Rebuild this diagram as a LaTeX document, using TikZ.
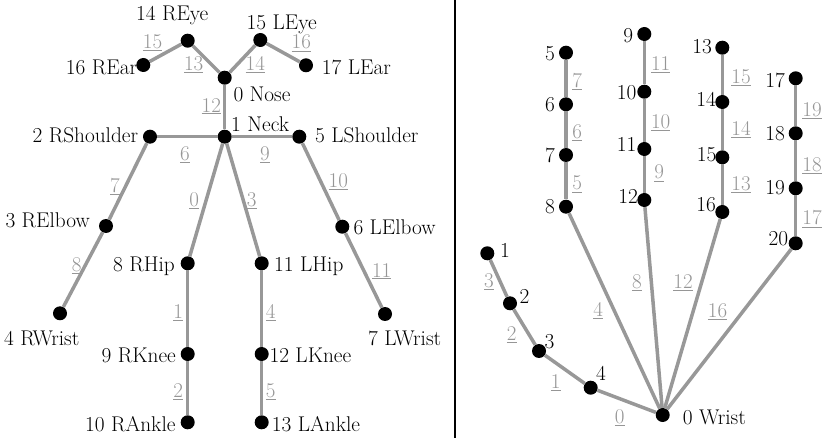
\documentclass[tikz,border=0pt]{standalone}
\definecolor{bonegray}{RGB}{152,152,152}
\definecolor{idxgray}{RGB}{150,150,150}
\tikzset{
  joint/.style={circle,fill=black,inner sep=0pt,minimum size=14pt},
  bone/.style={draw=bonegray,line width=3.5pt},
  jname/.style={inner sep=0pt,font=\fontsize{21.3}{25}\selectfont},
  bidx/.style={inner sep=0pt,anchor=base,text=idxgray,font=\fontsize{21}{25}\selectfont}
}
\begin{document}
\begin{tikzpicture}[x=1pt,y=-1pt]
            \useasboundingbox (0,0) rectangle (830,438);

            % Body joints
            \node[joint] (nose) at (224.7,77.7) {};
            \node[joint] (neck) at (224.7,136.7) {};
            \node[joint] (rsho) at (150,136.7) {};
            \node[joint] (relb) at (106,226) {};
            \node[joint] (rwri) at (60,313.3) {};
            \node[joint] (lsho) at (299.3,136.7) {};
            \node[joint] (lelb) at (342.3,226.7) {};
            \node[joint] (lwri) at (385,314) {};
            \node[joint] (rhip) at (187.7,263.3) {};
            \node[joint] (rkne) at (187.7,354) {};
            \node[joint] (rank) at (187.7,422.3) {};
            \node[joint] (lhip) at (261.7,263.3) {};
            \node[joint] (lkne) at (261.7,354) {};
            \node[joint] (lank) at (261.7,422.3) {};
            \node[joint] (reye) at (187.7,40.7) {};
            \node[joint] (leye) at (260.3,40) {};
            \node[joint] (rear) at (143.3,65) {};
            \node[joint] (lear) at (306,65.3) {};

            \draw[bone] (rear) -- (reye);
            \draw[bone] (reye) -- (nose);
            \draw[bone] (nose) -- (leye);
            \draw[bone] (leye) -- (lear);
            \draw[bone] (nose) -- (neck);
            \draw[bone] (neck) -- (rsho);
            \draw[bone] (neck) -- (lsho);
            \draw[bone] (rsho) -- (relb);
            \draw[bone] (relb) -- (rwri);
            \draw[bone] (lsho) -- (lelb);
            \draw[bone] (lelb) -- (lwri);
            \draw[bone] (neck) -- (rhip);
            \draw[bone] (neck) -- (lhip);
            \draw[bone] (rhip) -- (rkne);
            \draw[bone] (rkne) -- (rank);
            \draw[bone] (lhip) -- (lkne);
            \draw[bone] (lkne) -- (lank);

            \node[jname,anchor=base] (treye) at (172.2,21) {14 REye};
            \node[jname,anchor=base] (tleye) at (281.7,29.5) {15 LEye};
            \node[jname,anchor=base east] (trear) at (137.3,74.6) {16 REar};
            \node[jname,anchor=base west] (tlear) at (321.7,74.6) {17 LEar};
            \node[jname,anchor=base west] (tnose) at (233.3,101.3) {0 Nose};
            \node[jname,anchor=base west] (tneck) at (231,132) {1 Neck};
            \node[jname,anchor=base east] (trsho) at (138.3,142.7) {2 RShoulder};
            \node[jname,anchor=base west] (tlsho) at (315,142.7) {5 LShoulder};
            \node[jname,anchor=base east] (trelb) at (90,228) {3 RElbow};
            \node[jname,anchor=base west] (tlelb) at (353.3,235) {6 LElbow};
            \node[jname,anchor=base west] (trwri) at (4,345) {4 RWrist};
            \node[jname,anchor=base west] (tlwri) at (368,345) {7 LWrist};
            \node[jname,anchor=base east] (trhip) at (175,272) {8 RHip};
            \node[jname,anchor=base west] (tlhip) at (274,272) {11 LHip};
            \node[jname,anchor=base east] (trkne) at (176,362) {9 RKnee};
            \node[jname,anchor=base west] (tlkne) at (269.3,362) {12 LKnee};
            \node[jname,anchor=base east] (trank) at (175.7,431) {10 RAnkle};
            \node[jname,anchor=base west] (tlank) at (271.7,431) {13 LAnkle};

            \node[bidx] (b15) at (152.5,48.3) {\underline{15}};
            \node[bidx] (b13) at (193.7,70.7) {\underline{13}};
            \node[bidx] (b14) at (255.3,70.7) {\underline{14}};
            \node[bidx] (b16) at (301.3,49) {\underline{16}};
            \node[bidx] (b12) at (211.3,112.3) {\underline{12}};
            \node[bidx] (b6) at (185,160.7) {\underline{6}};
            \node[bidx] (b9) at (265,160.7) {\underline{9}};
            \node[bidx] (b7) at (115,192.3) {\underline{7}};
            \node[bidx] (b10) at (338.3,187.3) {\underline{10}};
            \node[bidx] (b0) at (194.3,206.7) {\underline{0}};
            \node[bidx] (b3) at (251.7,206.7) {\underline{3}};
            \node[bidx] (b8) at (76.7,271.7) {\underline{8}};
            \node[bidx] (b11) at (381.7,277.3) {\underline{11}};
            \node[bidx] (b1) at (178.3,318.3) {\underline{1}};
            \node[bidx] (b4) at (270.8,318.3) {\underline{4}};
            \node[bidx] (b2) at (178.3,397.7) {\underline{2}};
            \node[bidx] (b5) at (270.8,397.7) {\underline{5}};

            % Divider
            \draw[line width=2pt] (454.7,0) -- (454.7,438);

            % Hand joints
            \node[joint] (h0) at (662.7,415) {};
            \node[joint] (h1) at (487.3,253.3) {};
            \node[joint] (h2) at (510,303.3) {};
            \node[joint] (h3) at (539,351) {};
            \node[joint] (h4) at (590.7,387.7) {};
            \node[joint] (h5) at (566,52.7) {};
            \node[joint] (h6) at (566,104.3) {};
            \node[joint] (h7) at (566,155) {};
            \node[joint] (h8) at (566,206.7) {};
            \node[joint] (h9) at (644.3,34) {};
            \node[joint] (h10) at (644.3,91.7) {};
            \node[joint] (h11) at (644.3,149) {};
            \node[joint] (h12) at (644.3,200) {};
            \node[joint] (h13) at (722.3,47.7) {};
            \node[joint] (h14) at (722.3,102) {};
            \node[joint] (h15) at (722.3,157.3) {};
            \node[joint] (h16) at (722.3,212) {};
            \node[joint] (h17) at (795.7,78.3) {};
            \node[joint] (h18) at (795.7,133.3) {};
            \node[joint] (h19) at (795.7,188.3) {};
            \node[joint] (h20) at (795.7,243.3) {};

            \draw[bone] (h0) -- (h4);
            \draw[bone] (h4) -- (h3);
            \draw[bone] (h3) -- (h2);
            \draw[bone] (h2) -- (h1);
            \draw[bone] (h0) -- (h8);
            \draw[bone] (h8) -- (h7);
            \draw[bone] (h7) -- (h6);
            \draw[bone] (h6) -- (h5);
            \draw[bone] (h0) -- (h12);
            \draw[bone] (h12) -- (h11);
            \draw[bone] (h11) -- (h10);
            \draw[bone] (h10) -- (h9);
            \draw[bone] (h0) -- (h16);
            \draw[bone] (h16) -- (h15);
            \draw[bone] (h15) -- (h14);
            \draw[bone] (h14) -- (h13);
            \draw[bone] (h0) -- (h20);
            \draw[bone] (h20) -- (h19);
            \draw[bone] (h19) -- (h18);
            \draw[bone] (h18) -- (h17);

            \node[jname,anchor=base west] (th0) at (682.7,424) {0 Wrist};
            \node[jname,anchor=base west] (th1) at (500,257.3) {1};
            \node[jname,anchor=base west] (th2) at (519.3,303.3) {2};
            \node[jname,anchor=base west] (th3) at (544.3,348.3) {3};
            \node[jname,anchor=base west] (th4) at (596,380) {4};
            \node[jname,anchor=base east] (th5) at (555,61) {5};
            \node[jname,anchor=base east] (th6) at (555,111.7) {6};
            \node[jname,anchor=base east] (th7) at (555,163) {7};
            \node[jname,anchor=base east] (th8) at (555,213.3) {8};
            \node[jname,anchor=base east] (th9) at (633.3,42.7) {9};
            \node[jname,anchor=base east] (th10) at (636.7,100) {10};
            \node[jname,anchor=base east] (th11) at (636.7,151.7) {11};
            \node[jname,anchor=base east] (th12) at (638,204) {12};
            \node[jname,anchor=base east] (th13) at (712,54) {13};
            \node[jname,anchor=base east] (th14) at (716,106.7) {14};
            \node[jname,anchor=base east] (th15) at (716.7,161.7) {15};
            \node[jname,anchor=base east] (th16) at (716,211.7) {16};
            \node[jname,anchor=base east] (th17) at (785,87.3) {17};
            \node[jname,anchor=base east] (th18) at (785,140.7) {18};
            \node[jname,anchor=base east] (th19) at (785,195) {19};
            \node[jname,anchor=base east] (th20) at (788.3,246) {20};

            \node[bidx] (f0) at (619.7,423.3) {\underline{0}};
            \node[bidx] (f1) at (555.8,388.3) {\underline{1}};
            \node[bidx] (f2) at (511.7,340.7) {\underline{2}};
            \node[bidx] (f3) at (489,287.7) {\underline{3}};
            \node[bidx] (f4) at (598.3,316.7) {\underline{4}};
            \node[bidx] (f5) at (577.3,190) {\underline{5}};
            \node[bidx] (f6) at (577.3,138.3) {\underline{6}};
            \node[bidx] (f7) at (577.3,87.7) {\underline{7}};
            \node[bidx] (f8) at (637,288.3) {\underline{8}};
            \node[bidx] (f9) at (659.2,179) {\underline{9}};
            \node[bidx] (f10) at (660.7,128.3) {\underline{10}};
            \node[bidx] (f11) at (660.7,70.7) {\underline{11}};
            \node[bidx] (f12) at (683,288.3) {\underline{12}};
            \node[bidx] (f13) at (741,190.7) {\underline{13}};
            \node[bidx] (f14) at (741,135.7) {\underline{14}};
            \node[bidx] (f15) at (741,83.3) {\underline{15}};
            \node[bidx] (f16) at (717.5,317.3) {\underline{16}};
            \node[bidx] (f17) at (812,225) {\underline{17}};
            \node[bidx] (f18) at (812,171.7) {\underline{18}};
            \node[bidx] (f19) at (812,116.7) {\underline{19}};
        \end{tikzpicture}
\end{document}
